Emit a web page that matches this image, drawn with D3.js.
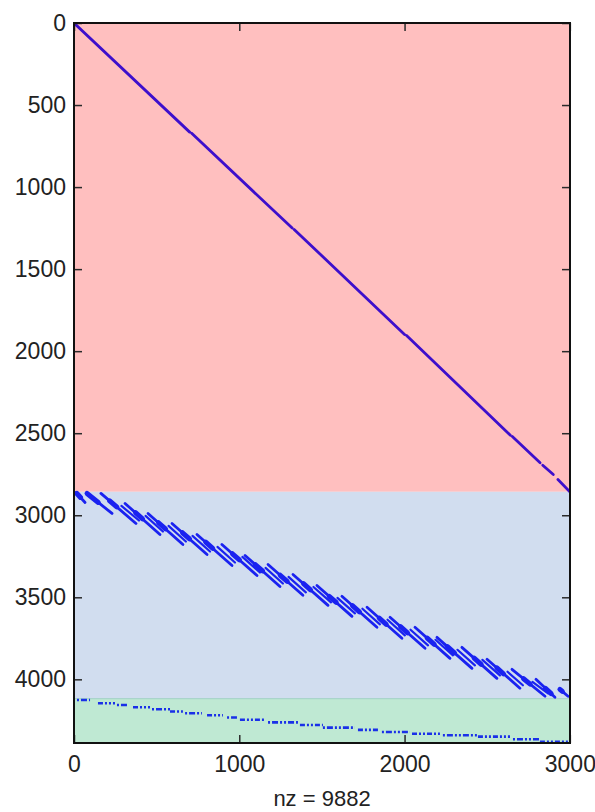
<!DOCTYPE html>
<html>
<head>
<meta charset="utf-8">
<script src="https://cdn.jsdelivr.net/npm/d3@7"></script>
<style>
  html, body { margin: 0; padding: 0; background: #fff; }
  svg { display: block; }
  text { font-family: "Liberation Sans", Arial, sans-serif; fill: #222; }
</style>
</head>
<body>
<svg id="chart" width="595" height="812"></svg>
<script>
// Sparsity pattern of a 4388 x 3000 block matrix (nz = 9882)
const nCols = 3001;
const nRows = 4388;
const nz = 9882;

// Row boundaries of the three row blocks
const blockRows = [0, 2857, 4118, 4388];

// Block 1: near-diagonal runs [col0, row0, col1, row1]
const diagRuns = [
  [0, 0, 700, 665],
  [712, 672, 1320, 1250],
  [1332, 1258, 2000, 1898],
  [2012, 1905, 2640, 2512],
  [2652, 2520, 2820, 2680],
  [2836, 2695, 2900, 2752],
  [2928, 2782, 3000, 2857]
];

// Block 2: banded strokes [col0, row0, col1, row1]
const bandStrokes = [
  [12, 2861, 67, 2922],
  [79, 2867, 230, 2989],
  [163, 2867, 375, 3050],
  [309, 2928, 520, 3117],
  [448, 2989, 659, 3178],
  [593, 3050, 805, 3239],
  [744, 3117, 956, 3306],
  [895, 3178, 1107, 3367],
  [1035, 3245, 1246, 3434],
  [1174, 3300, 1385, 3488],
  [1325, 3361, 1537, 3549],
  [1470, 3428, 1682, 3616],
  [1621, 3494, 1833, 3683],
  [1773, 3561, 1984, 3750],
  [1912, 3622, 2124, 3811],
  [2063, 3683, 2275, 3872],
  [2196, 3744, 2408, 3933],
  [2347, 3805, 2559, 3994],
  [2499, 3878, 2698, 4054],
  [2650, 3939, 2850, 4103],
  [2795, 4000, 2910, 4109],
  [2940, 4061, 2989, 4103]
];
// Denser stretch along each band stroke (fraction from, fraction to)
const bandDense = [
  [0.1, 0.5], [0.0, 0.45], [0.25, 0.45], [0.3, 0.5], [0.3, 0.5], [0.3, 0.5],
  [0.25, 0.45], [0.3, 0.5], [0.3, 0.5], [0.35, 0.55], [0.3, 0.5], [0.35, 0.55],
  [0.3, 0.5], [0.35, 0.55], [0.3, 0.5], [0.35, 0.55], [0.3, 0.5], [0.35, 0.55],
  [0.3, 0.5], [0.35, 0.55], [0.5, 0.8], [0.0, 0.3]
];
// Block 2: shorter companion strokes beside the band strokes
const bandCompanions = [
  [287, 2943, 393, 3032], [433, 3004, 538, 3099], [572, 3065, 677, 3160],
  [717, 3126, 823, 3221], [868, 3193, 974, 3288], [1019, 3254, 1125, 3349],
  [1159, 3321, 1264, 3416], [1298, 3376, 1403, 3470], [1449, 3437, 1555, 3531],
  [1594, 3504, 1700, 3598], [1745, 3570, 1851, 3665], [1897, 3637, 2002, 3732],
  [2036, 3698, 2142, 3793], [2187, 3759, 2293, 3854], [2320, 3820, 2426, 3915],
  [2471, 3881, 2577, 3976], [2623, 3954, 2716, 4036], [2774, 4015, 2868, 4085]
];

// Block 3: staircase runs [col0, col1, row]
const stairRuns = [
  [18, 97, 4126], [145, 248, 4146], [260, 327, 4156], [357, 460, 4170],
  [472, 581, 4182], [581, 659, 4196], [672, 774, 4207], [805, 901, 4219],
  [926, 986, 4233], [1004, 1156, 4246], [1174, 1355, 4262], [1367, 1506, 4278],
  [1506, 1700, 4294], [1718, 1851, 4308], [1863, 2033, 4321], [2045, 2214, 4332],
  [2232, 2438, 4341], [2444, 2638, 4349], [2656, 2819, 4365], [2819, 3000, 4380]
];

const xTicks = [0, 1000, 2000, 3000];
const yTicks = [0, 500, 1000, 1500, 2000, 2500, 3000, 3500, 4000];

// ---- drawing ----
const blockFill = ["#ffbfbf", "#d1ddef", "#bfe9d3"];
const margin = { left: 74, right: 25, top: 23, bottom: 69 };
const W = 595, H = 812;

const svg = d3.select("#chart");
const x = d3.scaleLinear().domain([0, nCols]).range([margin.left, W - margin.right]);
const y = d3.scaleLinear().domain([0, nRows]).range([margin.top, H - margin.bottom]);

svg.append("defs").append("clipPath").attr("id", "plotClip")
  .append("rect")
  .attr("x", x(0)).attr("y", y(0))
  .attr("width", x(nCols) - x(0)).attr("height", y(nRows) - y(0));

const plot = svg.append("g").attr("clip-path", "url(#plotClip)");

// block backgrounds
plot.selectAll("rect.block")
  .data(d3.pairs(blockRows))
  .join("rect")
  .attr("class", "block")
  .attr("x", x(0))
  .attr("width", x(nCols) - x(0))
  .attr("y", d => y(d[0]))
  .attr("height", d => y(d[1]) - y(d[0]))
  .attr("fill", (d, i) => blockFill[i]);

// thin separator between blocks 2 and 3
plot.append("line")
  .attr("x1", x(0)).attr("x2", x(nCols))
  .attr("y1", y(blockRows[2])).attr("y2", y(blockRows[2]))
  .attr("stroke", "#9fcfc4").attr("stroke-width", 1);

// block 1 diagonal
plot.selectAll("line.diag")
  .data(diagRuns)
  .join("line")
  .attr("class", "diag")
  .attr("x1", d => x(d[0])).attr("y1", d => y(d[1]))
  .attr("x2", d => x(d[2])).attr("y2", d => y(d[3]))
  .attr("stroke", "#3d0fcc")
  .attr("stroke-width", 2.8)
  .attr("stroke-linecap", "round");

// block 2 band strokes
const bandColor = "#1a22f0";
plot.selectAll("line.band")
  .data(bandStrokes)
  .join("line")
  .attr("class", "band")
  .attr("x1", d => x(d[0])).attr("y1", d => y(d[1]))
  .attr("x2", d => x(d[2])).attr("y2", d => y(d[3]))
  .attr("stroke", bandColor)
  .attr("stroke-width", 2.8)
  .attr("stroke-linecap", "round");

plot.selectAll("line.companion")
  .data(bandCompanions)
  .join("line")
  .attr("class", "companion")
  .attr("x1", d => x(d[0])).attr("y1", d => y(d[1]))
  .attr("x2", d => x(d[2])).attr("y2", d => y(d[3]))
  .attr("stroke", bandColor)
  .attr("stroke-width", 2.2)
  .attr("stroke-linecap", "round");

plot.selectAll("line.dense")
  .data(bandStrokes.map((s, i) => [s, bandDense[i]]))
  .join("line")
  .attr("class", "dense")
  .attr("x1", d => x(d[0][0] + (d[0][2] - d[0][0]) * d[1][0]))
  .attr("y1", d => y(d[0][1] + (d[0][3] - d[0][1]) * d[1][0]))
  .attr("x2", d => x(d[0][0] + (d[0][2] - d[0][0]) * d[1][1]))
  .attr("y2", d => y(d[0][1] + (d[0][3] - d[0][1]) * d[1][1]))
  .attr("stroke", bandColor)
  .attr("stroke-width", 5)
  .attr("stroke-linecap", "round");

// block 3 staircase
plot.selectAll("line.stair")
  .data(stairRuns)
  .join("line")
  .attr("class", "stair")
  .attr("x1", d => x(d[0])).attr("x2", d => x(d[1]))
  .attr("y1", d => y(d[2])).attr("y2", d => y(d[2]))
  .attr("stroke", "#1a30e8")
  .attr("stroke-width", 2.6)
  .attr("stroke-dasharray", (d, i) => i % 2 ? "5 2 2 2 2 2" : "2 2 6 2 2 2");

// ---- axes (ticks inward on all four sides) ----
const tickLen = 8;
const fmt = d3.format("d");
const axes = svg.append("g");

axes.append("g")
  .attr("transform", `translate(0,${y(nRows)})`)
  .call(d3.axisBottom(x).tickValues(xTicks).tickFormat(fmt).tickSizeInner(-tickLen).tickSizeOuter(0).tickPadding(13))
  .call(g => g.select(".domain").remove());

axes.append("g")
  .attr("transform", `translate(0,${y(0)})`)
  .call(d3.axisTop(x).tickValues(xTicks).tickSizeInner(-tickLen).tickSizeOuter(0).tickFormat(""))
  .call(g => g.select(".domain").remove());

axes.append("g")
  .attr("transform", `translate(${x(0)},0)`)
  .call(d3.axisLeft(y).tickValues(yTicks).tickFormat(fmt).tickSizeInner(-tickLen).tickSizeOuter(0).tickPadding(8))
  .call(g => g.select(".domain").remove());

axes.append("g")
  .attr("transform", `translate(${x(nCols)},0)`)
  .call(d3.axisRight(y).tickValues(yTicks).tickSizeInner(-tickLen).tickSizeOuter(0).tickFormat(""))
  .call(g => g.select(".domain").remove());

axes.selectAll(".tick line").attr("stroke", "#2a2a2a").attr("stroke-width", 1.5);
axes.selectAll(".tick text")
  .attr("font-size", 23)
  .attr("font-family", "Liberation Sans, Arial, sans-serif")
  .attr("fill", "#222");

// frame
svg.append("rect")
  .attr("x", x(0)).attr("y", y(0))
  .attr("width", x(nCols) - x(0)).attr("height", y(nRows) - y(0))
  .attr("fill", "none").attr("stroke", "#111").attr("stroke-width", 2);

// x label
svg.append("text")
  .attr("x", (x(0) + x(nCols)) / 2)
  .attr("y", 806)
  .attr("text-anchor", "middle")
  .attr("font-size", 22)
  .text(`nz = ${nz}`);
</script>
</body>
</html>
